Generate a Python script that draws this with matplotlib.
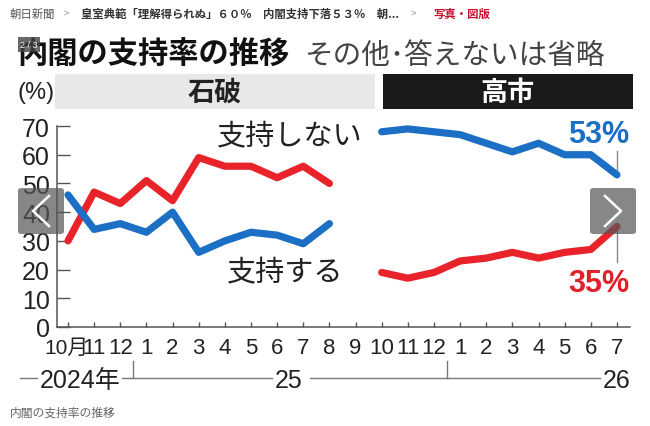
import numpy as np
import matplotlib
matplotlib.use("Agg")
import matplotlib.pyplot as plt
import matplotlib.transforms as mtransforms
from matplotlib.patches import Rectangle, FancyBboxPatch
from matplotlib.lines import Line2D

# ---------------- data ----------------
month_labels = ['10月', '11', '12', '1', '2', '3', '4', '5', '6', '7', '8', '9',
                '10', '11', '12', '1', '2', '3', '4', '5', '6', '7']
nan = np.nan
blue_values = [46, 34, 36, 33, 40, 26, 30, 33, 32, 29, 36, nan,
               68, 69, 68, 67, 64, 61, 64, 60, 60, 53]
red_values = [30, 47, 43, 51, 44, 59, 56, 56, 52, 56, 50, nan,
              19, 17, 19, 23, 24, 26, 24, 26, 27, 35]
y_ticks = [0, 10, 20, 30, 40, 50, 60, 70]
year_labels = ['2024年', '25', '26']
era_labels = ['石破', '高市']

W, H = 650, 427
DPI = 100
fig = plt.figure(figsize=(W / DPI, H / DPI), dpi=DPI)
fig.patch.set_facecolor('white')

JP = ['Noto Sans CJK JP', 'DejaVu Sans']
NUM = ['Liberation Sans', 'Noto Sans CJK JP', 'DejaVu Sans']


def P(x, y):
    return x / W, 1 - y / H


def ftext(x, y, s, **kw):
    fx, fy = P(x, y)
    return fig.text(fx, fy, s, **kw)


# ---------------- axes ----------------
x_left_px, x_right_px = 57, 630
y0_px, px_per_unit = 328, 2.871
x0_px, px_per_month = 68, 26.14
ylim_top = 75
xlim_left = -(x0_px - x_left_px) / px_per_month
xlim_right = (x_right_px - x0_px) / px_per_month
top_px = y0_px - ylim_top * px_per_unit

ax = fig.add_axes([x_left_px / W, 1 - y0_px / H,
                   (x_right_px - x_left_px) / W, (y0_px - top_px) / H])
ax.set_facecolor('none')
ax.set_xlim(xlim_left, xlim_right)
ax.set_ylim(0, ylim_top)

x = np.arange(len(month_labels))
ax.plot(x, red_values, color='#e8232a', lw=5.2, solid_capstyle='round',
        solid_joinstyle='round', zorder=3)
ax.plot(x, blue_values, color='#1b6fc4', lw=5.2, solid_capstyle='round',
        solid_joinstyle='round', zorder=3)

for s in ['top', 'right']:
    ax.spines[s].set_visible(False)
ax.spines['left'].set_bounds(0, 70)
ax.spines['left'].set_color('#555555')
ax.spines['bottom'].set_color('#555555')
ax.spines['left'].set_linewidth(1.1)
ax.spines['bottom'].set_linewidth(1.1)

ax.set_yticks(y_ticks)
ax.set_yticklabels([str(v) for v in y_ticks], fontfamily=NUM, fontsize=18,
                   color='#222222')
ax.tick_params(axis='y', direction='in', length=9, width=1, color='#555555', pad=5)
ax.set_xticks(x)
ax.set_xticklabels(month_labels, fontfamily=NUM, fontsize=16, color='#222222')
ax.tick_params(axis='x', direction='in', length=3.5, width=1, color='#555555', pad=7.5)
first = ax.get_xticklabels()[0]
first.set_fontsize(15)
first.set_transform(first.get_transform() +
                    mtransforms.ScaledTranslation(-2 / DPI, 0, fig.dpi_scale_trans))

# leader lines to percentage labels
last = len(month_labels) - 1
ax.plot([last, last], [blue_values[-1], 61.3], color='#888888', lw=1, zorder=2)
ax.plot([last, last], [red_values[-1], 22.6], color='#888888', lw=1, zorder=2)

# year row separators (between Dec and Jan)
for xs in [2.5, 14.5]:
    ax.plot([xs, xs], [-11.8, -17.8], color='#777777', lw=1, clip_on=False)

# ---------------- header / title ----------------
ftext(10, 14, '朝日新聞', fontfamily=JP, fontsize=8.2, color='#555555', va='center')
ftext(64, 14, '>', fontfamily=JP, fontsize=7, color='#999999', va='center')
ftext(81, 14, '皇室典範「理解得られぬ」６０％　内閣支持下落５３％　朝...', fontfamily=JP,
      fontsize=8.2, color='#333333', va='center', fontweight='bold')
ftext(411, 14, '>', fontfamily=JP, fontsize=7, color='#999999', va='center')
ftext(433, 14, '写真・図版', fontfamily=JP, fontsize=8.2, color='#c8102e',
      va='center', fontweight='bold')

ftext(17, 55, '内閣の支持率の推移', fontfamily=JP, fontsize=21.8, fontweight='bold',
      color='#111111', va='center')
ftext(304, 56, 'その他･答えないは省略', fontfamily=JP, fontsize=20.6,
      color='#444444', va='center')

# counter badge
fig.patches.append(Rectangle(P(18, 53), 22 / W, 15 / H, transform=fig.transFigure,
                             facecolor='#444444', alpha=0.8, edgecolor='none', zorder=4))
ftext(29, 45.5, '2 / 3', fontfamily=NUM, fontsize=6.5, color='white', ha='center',
      va='center', zorder=5)

# era bars
fig.patches.append(Rectangle(P(55, 110), 320 / W, 35 / H, transform=fig.transFigure,
                             facecolor='#e8e8e8', edgecolor='none', zorder=1))
fig.patches.append(Rectangle(P(383, 110), 250 / W, 35 / H, transform=fig.transFigure,
                             facecolor='#1a1a1a', edgecolor='none', zorder=1))
ftext(215, 93, era_labels[0], fontfamily=JP, fontsize=19.5, fontweight='bold',
      color='#222222', ha='center', va='center')
ftext(508, 93, era_labels[1], fontfamily=JP, fontsize=19.5, fontweight='bold',
      color='white', ha='center', va='center')
ftext(36, 93, '(%)', fontfamily=NUM, fontsize=17, color='#222222', ha='center',
      va='center')

# series labels
ftext(290, 137, '支持しない', fontfamily=JP, fontsize=21, color='#222222',
      ha='center', va='center')
ftext(285, 273, '支持する', fontfamily=JP, fontsize=21, color='#222222',
      ha='center', va='center')
ftext(598.5, 135, f'{blue_values[-1]:.0f}%', fontfamily=NUM, fontsize=22,
      fontweight='bold', color='#1b6fc4', ha='center', va='center')
ftext(598.5, 284, f'{red_values[-1]:.0f}%', fontfamily=NUM, fontsize=22,
      fontweight='bold', color='#e0212a', ha='center', va='center')

# year row
for (xa, xb) in [(20, 37), (122, 272), (310, 600)]:
    fig.lines.append(Line2D([xa / W, xb / W], [1 - 379 / H, 1 - 379 / H],
                            transform=fig.transFigure, color='#777777', lw=1))
ftext(80, 381, year_labels[0], fontfamily=NUM, fontsize=18, color='#222222',
      ha='center', va='center')
ftext(289, 381, year_labels[1], fontfamily=NUM, fontsize=18, color='#222222',
      ha='center', va='center')
ftext(617, 381, year_labels[2], fontfamily=NUM, fontsize=18, color='#222222',
      ha='center', va='center')

ftext(10, 413, '内閣の支持率の推移', fontfamily=JP, fontsize=8.5, color='#666666',
      va='center')

# nav arrows
for (bx, sign) in [(18, -1), (590, 1)]:
    fig.patches.append(FancyBboxPatch(P(bx, 235), 46 / W, 46 / H,
                                      boxstyle='round,pad=0,rounding_size=0.006',
                                      transform=fig.transFigure, facecolor='#555555',
                                      alpha=0.7, edgecolor='none', zorder=6))
    cx = bx + 23
    apex = cx + sign * 8
    ends = cx - sign * 8
    xs = [ends / W, apex / W, ends / W]
    ys = [1 - 197 / H, 1 - 212 / H, 1 - 227 / H]
    fig.lines.append(Line2D(xs, ys, transform=fig.transFigure, color='white',
                            lw=1.8, zorder=7))

fig.savefig('out.png', dpi=DPI, facecolor='white')
